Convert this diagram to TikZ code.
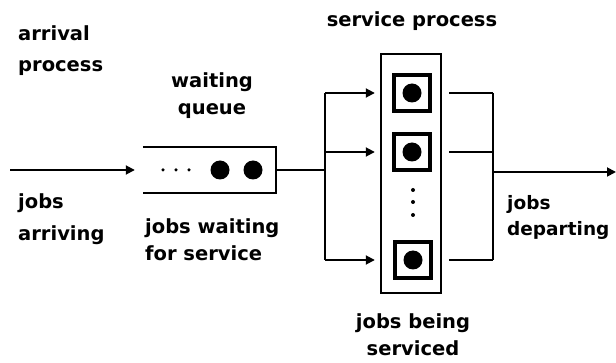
\documentclass[tikz,border=0pt]{standalone}
\usepackage{fontspec}
\usepackage{pdfrender}
\setmainfont{DejaVu Sans}
\newfontfamily\heavyfont{DejaVu Sans Bold}
\usetikzlibrary{arrows.meta}
\newcommand\heavyink{\pdfrender{TextRenderingMode=FillStroke,LineWidth=0.55pt}}
\begin{document}
\begin{tikzpicture}[x=1pt,y=-1pt,
  lbl/.style={inner sep=0pt,font=\heavyfont\fontsize{19.5}{27}\selectfont\heavyink},
  conn/.style={line width=1.8pt},
  arr/.style={conn,-{Triangle[length=9pt,width=9pt]}},
  box/.style={draw,line width=2.4pt,inner sep=0pt},
  srvbox/.style={draw,line width=3.6pt,minimum size=36pt,inner sep=0pt},
  job/.style={circle,fill=black,inner sep=0pt,minimum size=#1},
  job/.default=19pt,
  dot/.style={circle,fill=black,inner sep=0pt,minimum size=#1},
  dot/.default=3.5pt]
\useasboundingbox (0,0) rectangle (616,363);

% labels
\node[lbl,anchor=north west,align=left] (arrproc) at (18,25) {arrival\\[4pt]process};
\node[lbl,anchor=north,align=center] (waitq) at (212,72) {waiting\\queue};
\node[lbl,anchor=north,align=center] (srvproc) at (412,11) {service process};
\node[lbl,anchor=north west,align=left] (jarr) at (18,193) {jobs\\[5pt]arriving};
\node[lbl,anchor=north west,align=left] (jwait) at (145,218) {jobs waiting\\for service};
\node[lbl,anchor=north west,align=left,font=\heavyfont\fontsize{18.5}{26}\selectfont\heavyink] (jdep) at (507,195) {jobs\\departing};
\node[lbl,anchor=north,align=center] (jserv) at (413,313) {jobs being\\serviced};

% waiting queue (open on the arrival side)
\node[minimum width=133pt,minimum height=46pt,inner sep=0pt] (queue) at (209.5,170) {};
\draw[line width=2.4pt] (queue.north west) -- (queue.north east) -- (queue.south east) -- (queue.south west);
\node[dot] (qd1) at (163,170) {};
\node[dot] (qd2) at (176,170) {};
\node[dot] (qd3) at (189,170) {};
\node[job] (qj1) at (220,170) {};
\node[job] (qj2) at (253,170) {};

% service station with its servers
\node[box,minimum width=60pt,minimum height=239pt] (srv) at (411,173.5) {};
\node[srvbox] (s1) at (412,93) {};
\node[srvbox] (s2) at (412,152) {};
\node[srvbox] (s3) at (413,260) {};
\node[job] (j1) at (s1) {};
\node[job] (j2) at (s2) {};
\node[job] (j3) at (s3) {};
\node[dot=4pt] (vd1) at (413,190) {};
\node[dot=4pt] (vd2) at (413,202) {};
\node[dot=4pt] (vd3) at (413,215) {};

% distribution and collection buses
\coordinate (in) at (10,170);
\coordinate (busL) at (325,170);
\coordinate (busLt) at (325,93);
\coordinate (busLb) at (325,260);
\coordinate (busR) at (493,172);
\coordinate (busRt) at (493,93);
\coordinate (busRb) at (493,260);
\coordinate (out) at (616,172);

\draw[arr,shorten >=8pt] (in) -- (queue.west);
\draw[conn] (queue.east) -- (busL);
\draw[conn] (busLt) -- (busLb);
\draw[arr,shorten >=5pt] (busLt) -- (busLt -| srv.west);
\draw[arr,shorten >=5pt] (busLt |- s2) -- (s2 -| srv.west);
\draw[arr,shorten >=5pt] (busLb) -- (busLb -| srv.west);

\draw[conn,shorten <=7pt] (s1 -| srv.east) -- (busRt);
\draw[conn,shorten <=7pt] (s2 -| srv.east) -- (busRt |- s2);
\draw[conn,shorten <=7pt] (s3 -| srv.east) -- (busRb);
\draw[conn] (busRt) -- (busRb);
\draw[arr] (busR) -- (out);
\end{tikzpicture}
\end{document}
